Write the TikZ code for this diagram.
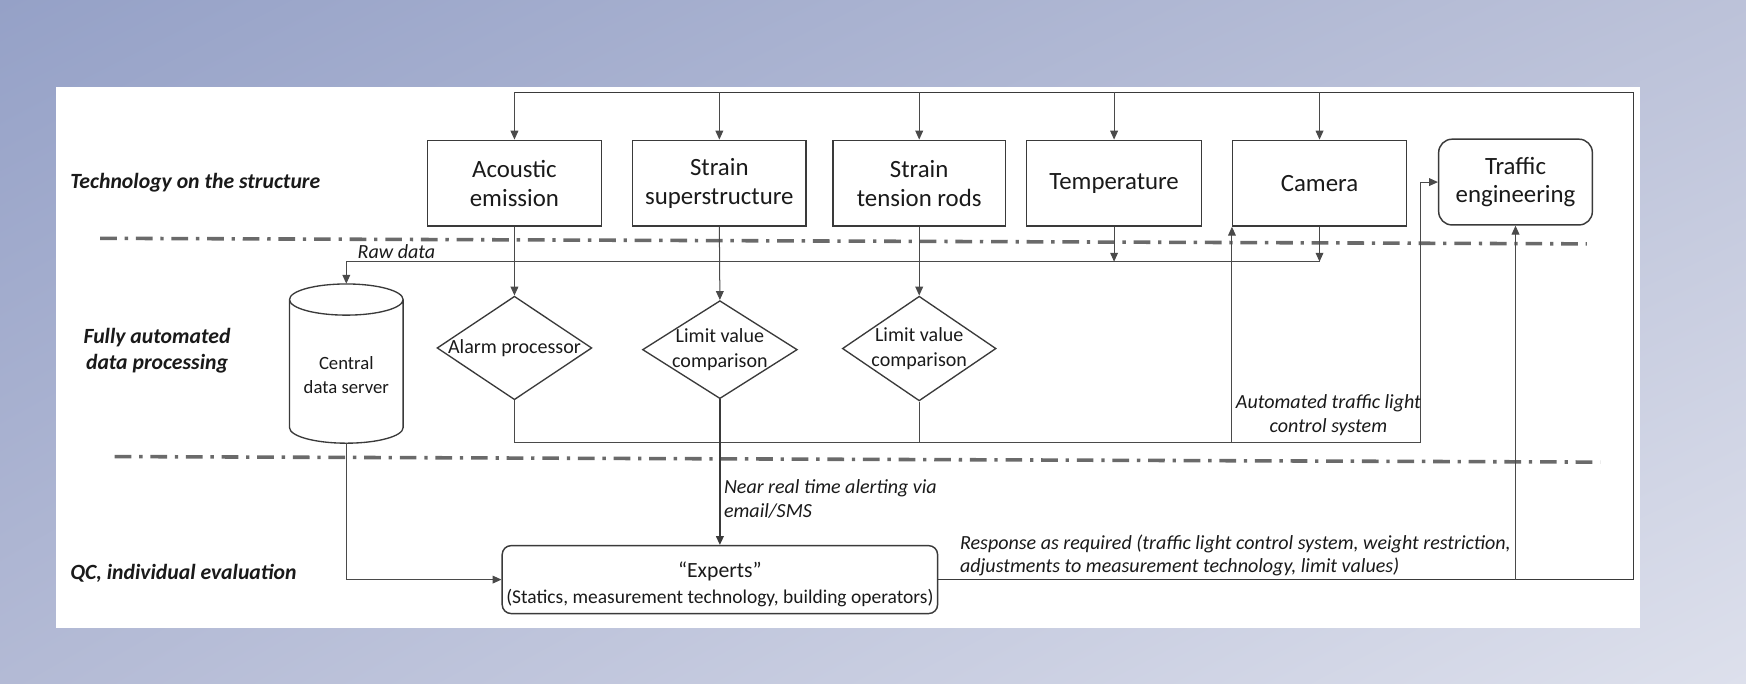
\documentclass[tikz,border=0pt]{standalone}
\usepackage{fontspec}
\setmainfont{Carlito}
\usetikzlibrary{arrows.meta,shapes.geometric,calc,shadings}
\definecolor{bgA}{HTML}{95A1C7}
\definecolor{bgB}{HTML}{BCC2D9}
\definecolor{bgC}{HTML}{B3BAD5}
\definecolor{bgD}{HTML}{DDE0EC}
\definecolor{boxc}{HTML}{3A3A3A}
\definecolor{linec}{HTML}{4A4A4A}
\definecolor{dashc}{HTML}{6A6A6A}
\definecolor{txt}{HTML}{1A1A1A}
\begin{document}
\begin{tikzpicture}[x=1pt,y=-1pt,
  sensor/.style={draw=boxc, line width=1.3pt, minimum width=156pt, minimum height=77pt, align=center, inner sep=0pt, text=txt, font=\fontsize{22.3}{26}\selectfont},
  rbox/.style={sensor, rounded corners=12pt},
  diam/.style={diamond, draw=boxc, line width=1.2pt, inner sep=0pt},
  dtext/.style={font=\fontsize{18}{23}\selectfont, align=center, text=txt, inner sep=0pt},
  lane/.style={font=\fontsize{19.5}{24}\selectfont\bfseries\itshape, align=center, text=txt, inner sep=0pt},
  lbl/.style={font=\fontsize{18}{22}\selectfont\itshape, text=txt, inner sep=0pt},
  conn/.style={draw=linec, line width=0.9pt},
  arr/.style={conn, -{Triangle[length=8pt,width=7pt]}},
  fb/.style={draw=boxc, line width=1.6pt},
  divider/.style={draw=dashc, line width=3.2pt, dash pattern=on 15pt off 7pt on 3pt off 7pt}
]
\useasboundingbox (0,0) rectangle (1568,614);
\shade[upper left=bgA, upper right=bgB, lower left=bgC, lower right=bgD] (0,0) rectangle (1568,614);
\fill[white] (50,78) rectangle (1473,564);

% dividers
\draw[divider] (90,214) -- (1425,219);
\draw[divider] (103,410) -- (1437,415);

% lane labels
\node[lane, anchor=west] (lane1) at (63,164) {Technology on the structure};
\node[lane] (lane2) at (141,315) {Fully automated\\data processing};
\node[lane, anchor=west] (lane3) at (63,515) {QC, individual evaluation};

% sensor boxes
\node[sensor] (acoustic) at (462,164.5) {Acoustic\\emission};
\node[sensor] (strainsup) at (646,164.5) {Strain\\superstructure};
\node[sensor, minimum width=155pt] (strainrod) at (825.5,164.5) {Strain\\tension rods};
\node[sensor, minimum width=157pt] (temperature) at (1000.5,164.5) {\raisebox{-1pt}{Temperature}};
\node[sensor] (camera) at (1185,164.5) {\raisebox{-1pt}{Camera}};
\node[rbox, minimum width=138pt] (traffic) at (1361,163.5) {Traffic\\engineering};

% central data server (cylinder)
\node[minimum width=102pt, minimum height=143pt, inner sep=0pt] (server) at (311,326.5) {};
\draw[draw=boxc, line width=1.2pt]
  (260,269) arc[start angle=180, end angle=360, x radius=51pt, y radius=14pt]
  arc[start angle=0, end angle=180, x radius=51pt, y radius=14pt]
  -- (260,384) arc[start angle=180, end angle=360, x radius=51pt, y radius=14pt] -- (362,269);
\node[dtext, font=\fontsize{16.8}{22}\selectfont] (servertext) at (311,337) {Central\\data server};

% diamonds
\node[diam, minimum width=139pt, minimum height=93pt,
  label={[dtext]center:Alarm processor}] (alarm) at (462,312.5) {};
\node[diam, minimum width=139pt, minimum height=88pt,
  label={[dtext]center:Limit value\\comparison}] (limit1) at (646.5,314) {};
\node[diam, minimum width=138pt, minimum height=94pt,
  label={[dtext]center:Limit value\\comparison}] (limit2) at (825.5,313) {};

% experts
\node[draw=boxc, line width=1.3pt, rounded corners=8pt, minimum width=391pt, minimum height=61pt,
  inner sep=0pt,
  label={[align=center, text=txt, inner sep=0pt, yshift=-4pt, font=\fontsize{17.5}{23}\selectfont]center:{\fontsize{19.5}{23}\selectfont “Experts”}\\(Statics, measurement technology, building operators)}]
  (expert) at (646.5,520.5) {};

% feedback loop
\coordinate (tl) at (462,83);
\coordinate (tr) at (1467,83);
\coordinate (br) at (1467,520.5);
\draw[fb] (expert.east) -- (br) -- (tr) -- (tl);
\foreach \n in {acoustic,strainsup,strainrod,temperature,camera}
  \draw[arr] (\n.north |- tl) -- (\n.north);
\draw[arr] (traffic.south |- br) -- (traffic.south);

% raw data
\coordinate (raw) at (1185,235);
\draw[arr] (camera.south) -- (camera.south |- raw);
\draw[arr] (temperature.south) -- (temperature.south |- raw);
\draw[arr] (raw) -| (server.north);
\node[lbl] (rawlbl) at (356,226) {Raw data};

% sensors to processors
\draw[arr] (acoustic.south) -- (alarm.north);
\draw[arr] (strainsup.south) -- (limit1.north);
\draw[arr] (strainrod.south) -- (limit2.north);

% automated traffic light collector
\coordinate (coll) at (1276,397);
\draw[conn] (alarm.south) |- (coll);
\draw[conn] (limit2.south) -- (limit2.south |- coll);
\draw[arr] (camera.south west |- coll) -- (camera.south west);
\draw[arr] (coll) |- (traffic.west);
\node[lbl, align=center] (autolbl) at (1193,373) {Automated traffic light\\control system};

% alerting
\draw[arr, draw=boxc, line width=1.4pt] (limit1.south) -- (expert.north);
\node[lbl, align=left, anchor=west] (alertlbl) at (650,448) {Near real time alerting via\\email/SMS};

% server to experts
\draw[arr] (server.south) |- (expert.west);

% response
\node[lbl, align=left, anchor=west, font=\fontsize{18}{20.5}\selectfont\itshape] (resplbl) at (862,499)
  {Response as required (traffic light control system, weight restriction,\\adjustments to measurement technology, limit values)};
\end{tikzpicture}
\end{document}
